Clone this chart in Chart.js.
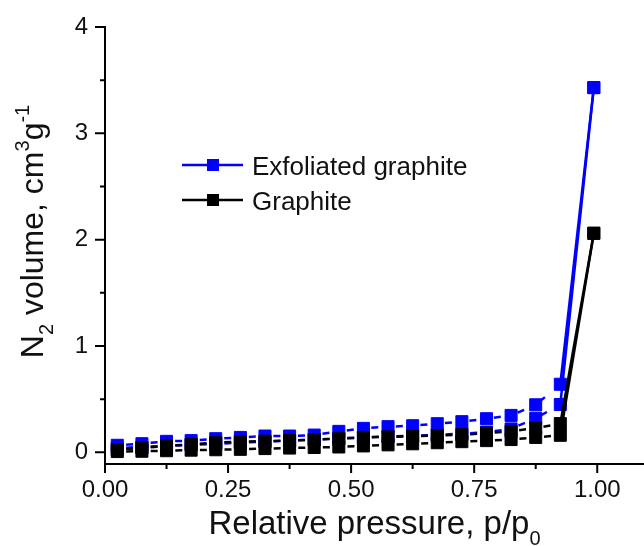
<!DOCTYPE html>
<html>
<head>
<meta charset="utf-8">
<script src="https://cdn.jsdelivr.net/npm/chart.js@4.4.1/dist/chart.umd.min.js"></script>
<style>
  html, body { margin: 0; padding: 0; background: #fff; }
</style>
</head>
<body>
<canvas id="isotherm" width="644" height="546"></canvas>
<script>
// relative pressure p/p0 of every measured point
const pressure = [0.025, 0.075, 0.125, 0.175, 0.225, 0.275, 0.325, 0.375, 0.425, 0.475,
                  0.525, 0.575, 0.625, 0.675, 0.725, 0.775, 0.825, 0.875, 0.925, 0.993];

// N2 volume, cm3/g
const exfoliatedAds = [0.04, 0.05, 0.06, 0.07, 0.08, 0.09, 0.10, 0.11, 0.12, 0.13,
                       0.14, 0.15, 0.155, 0.165, 0.175, 0.19, 0.22, 0.32, 0.45, 3.43];
const exfoliatedDes = [0.066, 0.081, 0.103, 0.11, 0.128, 0.14, 0.153, 0.153, 0.162, 0.197,
                       0.225, 0.241, 0.25, 0.269, 0.288, 0.316, 0.347, 0.447, 0.64, 3.43];
const graphiteAds = [0.007, 0.01, 0.015, 0.02, 0.024, 0.028, 0.035, 0.04, 0.045, 0.05,
                     0.06, 0.07, 0.08, 0.09, 0.10, 0.11, 0.12, 0.14, 0.16, 2.06];
const graphiteDes = [0.025, 0.04, 0.06, 0.075, 0.09, 0.10, 0.105, 0.11, 0.12, 0.128,
                     0.14, 0.145, 0.15, 0.158, 0.166, 0.18, 0.197, 0.228, 0.27, 2.06];

const seriesNames = ['Exfoliated graphite', 'Graphite'];

const xMajor = [0, 0.25, 0.5, 0.75, 1];
const xMinor = [0.125, 0.375, 0.625, 0.875];
const yMajor = [0, 1, 2, 3, 4];
const yMinor = [0.5, 1.5, 2.5, 3.5];

const FONT = '"Liberation Sans", Arial, sans-serif';
const BLUE = '#0000ff';
const BLACK = '#000000';
const TEXT = '#111111';

function pts(ys) {
  return ys.map((y, i) => ({ x: pressure[i], y: y }));
}

// low pressure part is dashed, the last jump is solid
const dash = ctx => ctx.p1.parsed.x > 0.95 ? [] : [7, 17.6];

function series(values, color) {
  return {
    data: pts(values),
    borderColor: color,
    backgroundColor: color,
    borderWidth: 2.5,
    borderDashOffset: -8.8,
    pointStyle: 'rect',
    pointRadius: 8.5,
    pointBorderWidth: 1,
    pointBorderColor: color,
    pointBackgroundColor: color,
    tension: 0,
    clip: false,
    segment: { borderDash: dash }
  };
}

// draw text made of pieces, some of them sub- or superscript
function richText(ctx, parts, size, x, y, align) {
  const small = Math.round(size * 0.62);
  let total = 0;
  parts.forEach(p => {
    ctx.font = (p.sub || p.sup ? small : size) + 'px ' + FONT;
    p.w = ctx.measureText(p.t).width;
    total += p.w;
  });
  let cx = align === 'center' ? x - total / 2 : x;
  ctx.textAlign = 'left';
  ctx.textBaseline = 'alphabetic';
  parts.forEach(p => {
    ctx.font = (p.sub || p.sup ? small : size) + 'px ' + FONT;
    let dy = 0;
    if (p.sub) dy = size * 0.32;
    if (p.sup) dy = -size * 0.45;
    ctx.fillText(p.t, cx, y + dy);
    cx += p.w;
  });
}

const decorations = {
  id: 'decorations',
  afterDraw(chart) {
    const { ctx, chartArea: a, scales: { x, y } } = chart;
    ctx.save();

    // tick marks
    ctx.strokeStyle = BLACK;
    ctx.lineWidth = 2;
    ctx.beginPath();
    xMajor.forEach(v => { const p = x.getPixelForValue(v); ctx.moveTo(p, a.bottom); ctx.lineTo(p, a.bottom + 9); });
    xMinor.forEach(v => { const p = x.getPixelForValue(v); ctx.moveTo(p, a.bottom); ctx.lineTo(p, a.bottom + 5); });
    yMajor.forEach(v => { const p = y.getPixelForValue(v); ctx.moveTo(a.left, p); ctx.lineTo(a.left - 10, p); });
    yMinor.forEach(v => { const p = y.getPixelForValue(v); ctx.moveTo(a.left, p); ctx.lineTo(a.left - 5, p); });
    ctx.stroke();

    // legend
    const rows = [
      { name: seriesNames[0], color: BLUE, y: 165 },
      { name: seriesNames[1], color: BLACK, y: 200 }
    ];
    rows.forEach(r => {
      ctx.strokeStyle = r.color;
      ctx.fillStyle = r.color;
      ctx.lineWidth = 2.5;
      ctx.beginPath();
      ctx.moveTo(182, r.y);
      ctx.lineTo(243, r.y);
      ctx.stroke();
      ctx.fillRect(207, r.y - 6, 12, 12);
      ctx.fillStyle = TEXT;
      ctx.font = '26px ' + FONT;
      ctx.textAlign = 'left';
      ctx.textBaseline = 'alphabetic';
      ctx.fillText(r.name, 252, r.y + 9.5);
    });

    // axis titles
    ctx.fillStyle = TEXT;
    richText(ctx, [{ t: 'Relative pressure, p/p' }, { t: '0', sub: true }],
      33, (a.left + a.right) / 2, 534, 'center');

    ctx.save();
    ctx.translate(43, (a.top + a.bottom) / 2 - 14);
    ctx.rotate(-Math.PI / 2);
    richText(ctx, [
      { t: 'N' }, { t: '2', sub: true }, { t: ' volume, cm' }, { t: '3', sup: true },
      { t: 'g' }, { t: '-1', sup: true }
    ], 32, 0, 0, 'center');
    ctx.restore();

    ctx.restore();
  }
};

const ctx = document.getElementById('isotherm').getContext('2d');
new Chart(ctx, {
  type: 'line',
  data: {
    // index 0 is drawn on top, so graphite goes first
    datasets: [
      series(graphiteAds, BLACK),
      series(graphiteDes, BLACK),
      series(exfoliatedAds, BLUE),
      series(exfoliatedDes, BLUE)
    ]
  },
  options: {
    responsive: false,
    animation: false,
    layout: { autoPadding: false, padding: { top: 27, right: 0, left: 0, bottom: 0 } },
    plugins: {
      legend: { display: false },
      tooltip: { enabled: false }
    },
    scales: {
      x: {
        type: 'linear',
        min: 0,
        max: 1.095,
        afterBuildTicks: s => { s.ticks = xMajor.map(v => ({ value: v })); },
        afterFit: s => { s.height = 82; s.paddingLeft = 0; s.paddingRight = 0; },
        grid: { display: false, drawTicks: true, tickLength: 9 },
        border: { display: true, color: BLACK, width: 2 },
        ticks: {
          color: TEXT,
          padding: 3,
          maxRotation: 0,
          font: { family: FONT, size: 24 },
          callback: v => v.toFixed(2)
        }
      },
      y: {
        type: 'linear',
        min: -0.11,
        max: 4,
        afterBuildTicks: s => { s.ticks = yMajor.map(v => ({ value: v })); },
        afterFit: s => { s.width = 105; s.paddingTop = 0; s.paddingBottom = 0; },
        grid: { display: false, drawTicks: true, tickLength: 10 },
        border: { display: true, color: BLACK, width: 2 },
        ticks: {
          color: TEXT,
          padding: 7,
          font: { family: FONT, size: 24 },
          callback: v => String(v)
        }
      }
    }
  },
  plugins: [decorations]
});
</script>
</body>
</html>
